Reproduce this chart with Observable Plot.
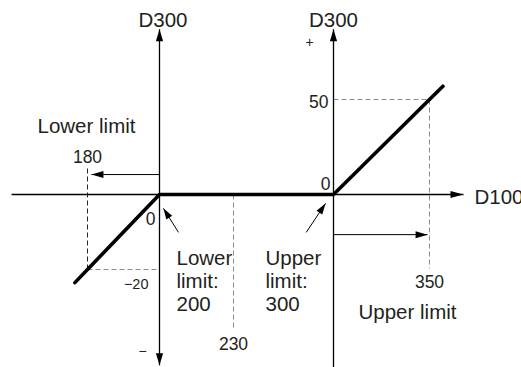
<!DOCTYPE html>
<html><head><meta charset="utf-8">
<script src="https://cdn.jsdelivr.net/npm/d3@7"></script>
<script src="https://cdn.jsdelivr.net/npm/@observablehq/plot@0.6"></script>
<style>html,body{margin:0;padding:0;background:#fff;}</style>
</head><body><div id="chart"></div>
<script>
// ---- values (D100 on x, D300 on y) ----
const d100Ticks = [180, 200, 230, 300, 350];
const d300Ticks = [-20, 0, 50];
const lowerLimit = 200;
const upperLimit = 300;
// characteristic (thick) line
const curveD100 = [176.5, 180, 200, 300, 350, 357];
const curveD300 = [-23.5, -20, 0, 0, 50, 57];
// axis extents (schematic)
const xAxisExtent = [158.9, 367.7];
const yTopValue = 87;
const yBottomLeft = -45.5;
const yBottomRight = -48;
// guide (dashed) segments: [x1, y1, x2, y2]
const guideGray = [[180, -20, 200, -20], [230, 0, 230, -36.3], [300, 50, 350, 50], [350, 50, 350, -19.7]];
const guideDark = [[180, 13.7, 180, -20]];
// thin annotation arrows: [fromX, fromY, toX, toY]
const limitArrows = [[200, 10.5, 181.1, 10.5], [300, -10.7, 349, -10.7]];
const leaderArrows = [[207.7, -10.1, 201.6, -3.7], [280.9, -10.1, 294.4, -2.4]];
// text
const axisLabelY = "D300";
const axisLabelX = "D100";
const lowerTitle = "Lower limit";
const upperTitle = "Upper limit";
const lowerNote = "Lower\nlimit:\n200";
const upperNote = "Upper\nlimit:\n300";

// ---- schematic (piecewise) scales ----
const xOpts = {type: "linear", domain: d100Ticks, range: [87, 159, 233, 333, 429], axis: null};
const yOpts = {type: "linear", domain: d300Ticks, range: [269, 194, 99], axis: null};
const sx = Plot.scale({x: xOpts});
const sy = Plot.scale({y: yOpts});

function head(angle, len, half) {
  const a = angle * Math.PI / 180, c = Math.cos(a), s = Math.sin(a);
  const pts = [[0, 0], [-len, -half], [-len, half]].map(([px, py]) => [px * c - py * s, px * s + py * c]);
  return {draw(ctx) { ctx.moveTo(pts[0][0], pts[0][1]); ctx.lineTo(pts[1][0], pts[1][1]); ctx.lineTo(pts[2][0], pts[2][1]); ctx.closePath(); }};
}
function angleOf([x1, y1, x2, y2]) {
  return Math.atan2(sy.apply(y2) - sy.apply(y1), sx.apply(x2) - sx.apply(x1)) * 180 / Math.PI;
}
const toLinks = arr => arr.map(([x1, y1, x2, y2]) => ({x1, y1, x2, y2}));
const curve = curveD100.map((x, i) => ({x, y: curveD300[i]}));
const ink = "#231f20";
const tip = (x, y, ang, len, half) => Plot.dot([0], {x, y, symbol: head(ang, len, half), fill: "#000", stroke: "none"});
const label = (t, x, y, o) => Plot.text([t], {x, y, fill: ink, lineAnchor: "bottom", fontSize: 17.5, ...o});

const chart = Plot.plot({
  width: 521, height: 367, margin: 0,
  x: xOpts, y: yOpts,
  style: {fontFamily: "'Liberation Sans', Arial, Helvetica, sans-serif", background: "#fff"},
  marks: [
    Plot.link(toLinks(guideGray), {x1: "x1", y1: "y1", x2: "x2", y2: "y2", stroke: "#8c8c8c", strokeWidth: 1, strokeDasharray: "5,3"}),
    Plot.link(toLinks(guideDark), {x1: "x1", y1: "y1", x2: "x2", y2: "y2", stroke: "#222", strokeWidth: 1, strokeDasharray: "5,3"}),
    // axes
    Plot.link([0], {x1: xAxisExtent[0], x2: xAxisExtent[1], y1: 0, y2: 0, stroke: "#000", strokeWidth: 1.3}),
    Plot.link([0], {x1: lowerLimit, x2: lowerLimit, y1: yBottomLeft, y2: yTopValue, stroke: "#000", strokeWidth: 1.3}),
    Plot.link([0], {x1: upperLimit, x2: upperLimit, y1: yBottomRight, y2: yTopValue, stroke: "#000", strokeWidth: 1.3}),
    tip(xAxisExtent[1], 0, 0, 13, 3.6),
    tip(lowerLimit, yTopValue, -90, 12, 3.6),
    tip(upperLimit, yTopValue, -90, 12, 3.6),
    tip(lowerLimit, yBottomLeft, 90, 12, 3.6),
    // characteristic line
    Plot.line(curve, {x: "x", y: "y", stroke: "#000", strokeWidth: 3.6, strokeLinejoin: "miter"}),
    // limit arrows
    Plot.link(toLinks(limitArrows), {x1: "x1", y1: "y1", x2: "x2", y2: "y2", stroke: "#000", strokeWidth: 1}),
    ...limitArrows.map(a => tip(a[2], a[3], angleOf(a), 12, 3.5)),
    // leader arrows
    Plot.link(toLinks(leaderArrows), {x1: "x1", y1: "y1", x2: "x2", y2: "y2", stroke: "#000", strokeWidth: 1}),
    ...leaderArrows.map(a => tip(a[2], a[3], angleOf(a), 11, 3.5)),
    // labels
    label(axisLabelY, lowerLimit, yTopValue, {dx: 3.5, dy: -2, fontSize: 20.5}),
    label(axisLabelY, upperLimit, yTopValue, {dx: 0, dy: -2, fontSize: 20.5}),
    label("+", upperLimit, yTopValue, {dx: -24, dy: 18, fontSize: 14}),
    label(axisLabelX, xAxisExtent[1], 0, {dx: 11, dy: 9, textAnchor: "start", fontSize: 20.5}),
    label(lowerTitle, d100Ticks[0], 0, {dx: -50, dy: -62, textAnchor: "start", fontSize: 20.5}),
    label(String(d100Ticks[0]), d100Ticks[0], 0, {dy: -32}),
    label(String(d300Ticks[2]), upperLimit, d300Ticks[2], {dx: -5, dy: 8, textAnchor: "end"}),
    label(String(d300Ticks[1]), upperLimit, 0, {dx: -3, dy: -5, textAnchor: "end"}),
    label(String(d300Ticks[1]), lowerLimit, 0, {dx: -4, dy: 30, textAnchor: "end"}),
    label("\u2212" + Math.abs(d300Ticks[0]), lowerLimit, d300Ticks[0], {dx: -11, dy: 19, textAnchor: "end", fontSize: 14.5}),
    label("\u2212", lowerLimit, yBottomLeft, {dx: -17, dy: -9, fontSize: 14}),
    label(lowerNote, lowerLimit, 0, {dx: 17, dy: 116, textAnchor: "start", fontSize: 20.5, lineHeight: 1.1}),
    label(upperNote, upperLimit, 0, {dx: -68, dy: 116, textAnchor: "start", fontSize: 20.5, lineHeight: 1.1}),
    label(String(d100Ticks[2]), d100Ticks[2], 0, {dy: 155}),
    label(String(d100Ticks[4]), d100Ticks[4], 0, {dy: 93}),
    label(upperTitle, upperLimit, 0, {dx: 25, dy: 124, textAnchor: "start", fontSize: 20.5})
  ]
});
document.getElementById("chart").appendChild(chart);
</script>
</body></html>
